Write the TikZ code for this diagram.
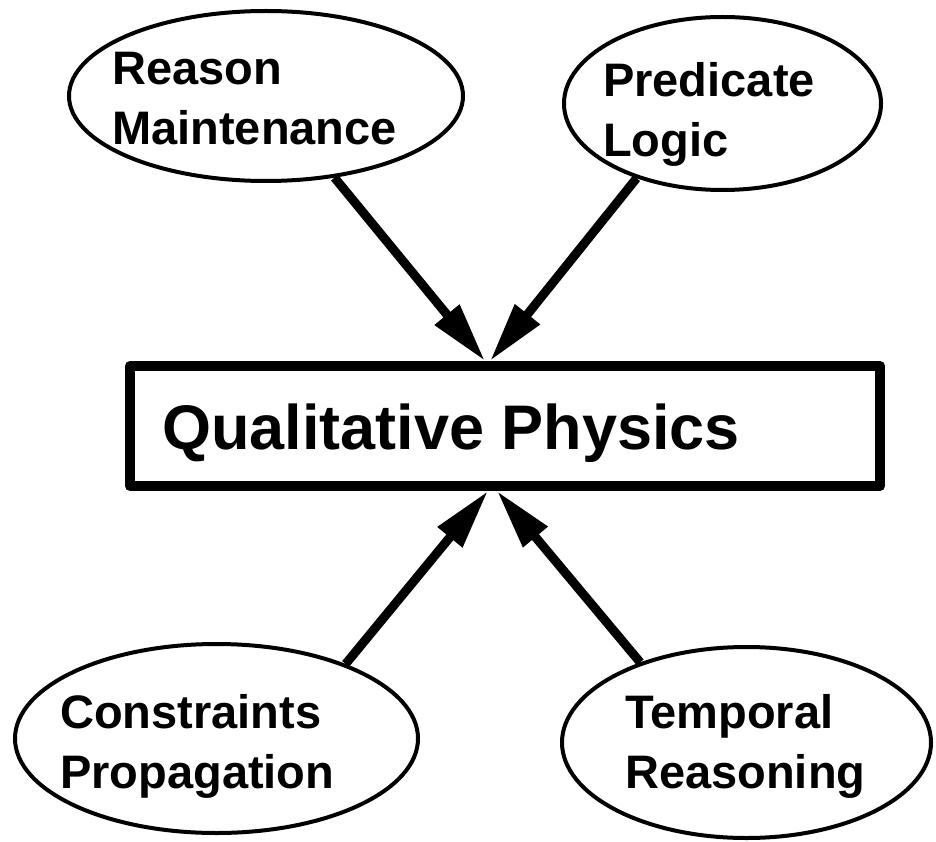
\documentclass[tikz,border=0pt]{standalone}
\usepackage{fontspec}
\setmainfont{Liberation Sans}
\usetikzlibrary{shapes.geometric,arrows.meta}

\tikzset{
  bubble/.style={draw=black, ellipse, line width=4pt, inner sep=0pt},
  bubtext/.style={anchor=north west, inner sep=0pt, align=left,
    font=\bfseries\fontsize{47}{60}\selectfont},
  flow/.style={black, line width=9pt, -{Triangle[length=60pt,width=30pt]}},
}

\begin{document}
\begin{tikzpicture}[x=1pt,y=-1pt]
    \useasboundingbox (0,0) rectangle (936,842);

    % the four topics
    \node[bubble, minimum width=394pt, minimum height=170pt] (rm) at (266,96) {};
    \node[bubble, minimum width=317pt, minimum height=173pt] (pl) at (722.5,103.5) {};
    \node[bubble, minimum width=403pt, minimum height=189pt] (cp) at (216.5,738.5) {};
    \node[bubble, minimum width=369pt, minimum height=191pt] (tr) at (746.5,742.5) {};

    \node[bubtext] (rm-txt) at (112,52) {Reason\\Maintenance};
    \node[bubtext] (pl-txt) at (603,62) {Predicate\\Logic};
    \node[bubtext] (cp-txt) at (60,694) {Constraints\\Propagation};
    \node[bubtext] (tr-txt) at (625,694) {Temporal\\Reasoning};

    % the main box
    \node[draw=black, line width=10pt, line join=round,
        minimum width=750pt, minimum height=120pt] (qp) at (505,426) {};
    \node[anchor=north west, inner sep=0pt,
        font=\bfseries\fontsize{63}{76}\selectfont] (qp-txt) at (162,404)
        {Qualitative Physics};

    % where the arrows hit the box
    \coordinate (in-rm) at (485,361);
    \coordinate (in-pl) at (490,361);
    \coordinate (in-cp) at (488,491);
    \coordinate (in-tr) at (497,491);

    % draw the arrows
    \draw[flow] (rm.310) -- (in-rm);
    \draw[flow] (pl.221) -- (in-pl);
    \draw[flow] (cp.30) -- (in-cp);
    \draw[flow] (tr.143.8) -- (in-tr);
\end{tikzpicture}
\end{document}
